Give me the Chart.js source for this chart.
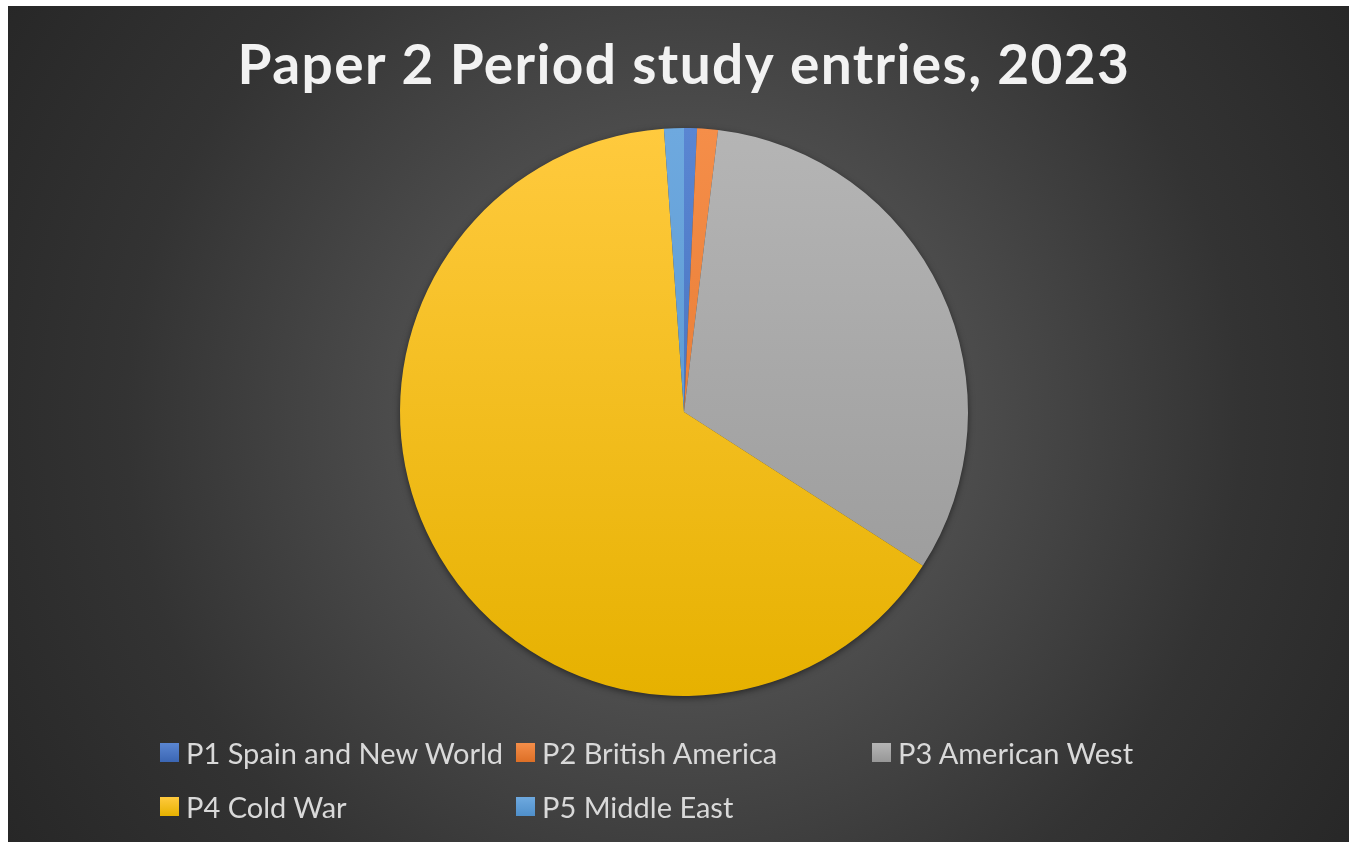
<!DOCTYPE html>
<html>
<head>
<meta charset="utf-8">
<title>Paper 2 Period study entries, 2023</title>
<script src="https://cdn.jsdelivr.net/npm/chart.js@4.4.1/dist/chart.umd.min.js"></script>
<style>
  html, body { margin: 0; padding: 0; background: #ffffff; }
  #wrap {
    position: absolute; left: 8px; top: 6px; width: 1341px; height: 836px;
    background: radial-gradient(circle farthest-corner at 676px 412px,
      #575757 0%, #4c4c4c 36%, #333333 70%, #272727 100%);
    overflow: hidden;
  }
  #legend { position: absolute; left: 0; top: 0; width: 100%; height: 100%; pointer-events: none; }
  .item {
    position: absolute; display: flex; align-items: center; white-space: nowrap;
    font-family: Lato, "Open Sans", sans-serif; font-size: 29px; color: #d9d9d9;
  }
  .box { width: 19px; height: 19px; margin-right: 7px; flex: none; }
</style>
</head>
<body>
<div id="wrap">
  <canvas id="pieChart" width="1341" height="836"></canvas>
  <div id="legend"></div>
</div>
<script>
// Entries per period study option
const studies = ["P1 Spain and New World", "P2 British America", "P3 American West", "P4 Cold War", "P5 Middle East"];
const entries = [1290, 2080, 56570, 113830, 1980];

// Slice colours: base, lighter top, darker bottom
const baseColors = ["#4472C4", "#ED7D31", "#A5A5A5", "#FFC000", "#5B9BD5"];
const topColors = ["#5a86d2", "#f58e49", "#b5b5b5", "#ffca3e", "#6ea9df"];
const bottomColors = ["#3b66b3", "#dd6f26", "#979797", "#e6b100", "#4f8fca"];

function sliceFill(c) {
  const area = c.chart.chartArea;
  const i = c.dataIndex;
  if (!area) return baseColors[i];
  const g = c.chart.ctx.createLinearGradient(0, area.top, 0, area.bottom);
  g.addColorStop(0, topColors[i]);
  g.addColorStop(1, bottomColors[i]);
  return g;
}

// wider tracking for the title text
const titleSpacing = {
  id: "titleSpacing",
  beforeDraw(chart) {
    chart.ctx.letterSpacing = "1.4px";
  }
};

// soft drop shadow behind the whole pie
const pieShadow = {
  id: "pieShadow",
  beforeDatasetsDraw(chart) {
    const arc = chart.getDatasetMeta(0).data[0];
    if (!arc) return;
    const ctx = chart.ctx;
    ctx.save();
    ctx.shadowColor = "rgba(0,0,0,0.55)";
    ctx.shadowBlur = 7;
    ctx.shadowOffsetY = 2;
    ctx.fillStyle = "#444";
    ctx.beginPath();
    ctx.arc(arc.x, arc.y, arc.outerRadius - 0.5, 0, Math.PI * 2);
    ctx.fill();
    ctx.restore();
  }
};

const ctx = document.getElementById("pieChart").getContext("2d");
const pieChart = new Chart(ctx, {
  type: "pie",
  data: {
    labels: studies,
    datasets: [{
      data: entries,
      backgroundColor: sliceFill,
      borderWidth: 0
    }]
  },
  options: {
    responsive: false,
    animation: false,
    layout: { padding: { top: 0, left: 11, right: 0, bottom: 146 } },
    plugins: {
      legend: { display: false },
      tooltip: { enabled: false },
      title: {
        display: true,
        text: "Paper 2 Period study entries, 2023",
        color: "#f2f2f2",
        font: { family: "Lato, 'Open Sans', sans-serif", size: 55, weight: "bold", lineHeight: 1.2 },
        padding: { top: 27, bottom: 29 }
      }
    }
  },
  plugins: [titleSpacing, pieShadow]
});

// Legend laid out as a three-column grid under the pie
const legend = document.getElementById("legend");
studies.forEach((name, i) => {
  const item = document.createElement("div");
  item.className = "item";
  item.style.left = (152 + (i % 3) * 356) + "px";
  item.style.top = (i < 3 ? 729 : 783) + "px";
  item.style.height = "34px";
  const box = document.createElement("span");
  box.className = "box";
  box.style.background = "linear-gradient(" + topColors[i] + ", " + bottomColors[i] + ")";
  const txt = document.createElement("span");
  txt.textContent = name;
  item.appendChild(box);
  item.appendChild(txt);
  legend.appendChild(item);
});
</script>
</body>
</html>
